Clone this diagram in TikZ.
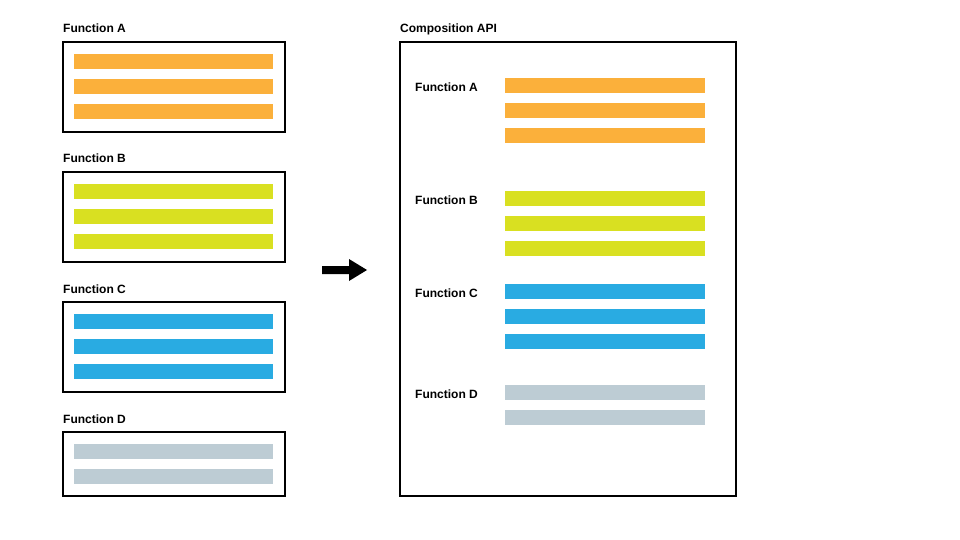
\documentclass[tikz,border=0pt]{standalone}
\usepackage{fontspec}
\setmainfont{Liberation Sans}
\definecolor{barA}{HTML}{FBB03B}
\definecolor{barB}{HTML}{D9E021}
\definecolor{barC}{HTML}{29ABE2}
\definecolor{barD}{HTML}{BDCCD4}
\begin{document}
\begin{tikzpicture}[x=1pt,y=-1pt,
  box/.style={draw=black,line width=2pt,outer sep=0pt,inner sep=0pt,anchor=north west},
  lbl/.style={anchor=base west,inner sep=0pt,font=\fontsize{12}{14}\selectfont\bfseries}]
\useasboundingbox (0,0) rectangle (960,540);
% left column
\node[lbl] (lA) at (63,33) {Function A};
\node[box,minimum width=222pt,minimum height=90pt] (bA) at (63,42) {};
\foreach \y in {54,79,104} \fill[barA] (74,\y) rectangle ++(199,15);
\node[lbl] (lB) at (63,163) {Function B};
\node[box,minimum width=222pt,minimum height=90pt] (bB) at (63,172) {};
\foreach \y in {184,209,234} \fill[barB] (74,\y) rectangle ++(199,15);
\node[lbl] (lC) at (63,293) {Function C};
\node[box,minimum width=222pt,minimum height=90pt] (bC) at (63,302) {};
\foreach \y in {314,339,364} \fill[barC] (74,\y) rectangle ++(199,15);
\node[lbl] (lD) at (63,423) {Function D};
\node[box,minimum width=222pt,minimum height=64pt] (bD) at (63,432) {};
\foreach \y in {444,469} \fill[barD] (74,\y) rectangle ++(199,15);
% arrow
\fill[black] (322,266) -- (349,266) -- (349,259) -- (367,270) -- (349,281) -- (349,274) -- (322,274) -- cycle;
% right
\node[lbl] (lR) at (400,33) {Composition API};
\node[box,minimum width=336pt,minimum height=454pt] (bR) at (400,42) {};
\node[lbl] (rA) at (415,91.5) {Function A};
\foreach \y in {78,103,128} \fill[barA] (505,\y) rectangle ++(200,15);
\node[lbl] (rB) at (415,204.5) {Function B};
\foreach \y in {191,216,241} \fill[barB] (505,\y) rectangle ++(200,15);
\node[lbl] (rC) at (415,297.5) {Function C};
\foreach \y in {284,309,334} \fill[barC] (505,\y) rectangle ++(200,15);
\node[lbl] (rD) at (415,398.5) {Function D};
\foreach \y in {385,410} \fill[barD] (505,\y) rectangle ++(200,15);
\end{tikzpicture}
\end{document}
